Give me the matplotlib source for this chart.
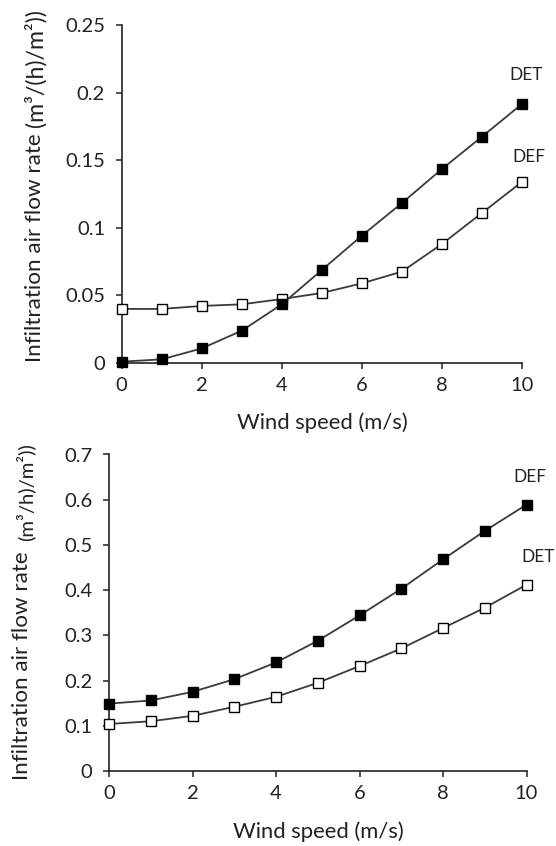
import matplotlib
matplotlib.use("Agg")
import matplotlib.pyplot as plt

plt.rcParams['font.family'] = ['Lato', 'DejaVu Sans']

wind = [0, 1, 2, 3, 4, 5, 6, 7, 8, 9, 10]

# Top panel
top_det = [0.001, 0.0027, 0.0108, 0.0239, 0.0434, 0.0688, 0.0942, 0.1183, 0.1435, 0.1674, 0.1916]
top_def = [0.040, 0.040, 0.0422, 0.0434, 0.0473, 0.0518, 0.0589, 0.0676, 0.088, 0.111, 0.134]
top_yticks = [0, 0.05, 0.1, 0.15, 0.2, 0.25]
top_yticklabels = ['0', '0.05', '0.1', '0.15', '0.2', '0.25']

# Bottom panel
bot_def = [0.149, 0.156, 0.175, 0.203, 0.240, 0.288, 0.344, 0.403, 0.468, 0.531, 0.589]
bot_det = [0.104, 0.110, 0.122, 0.142, 0.164, 0.195, 0.232, 0.271, 0.316, 0.361, 0.412]
bot_yticks = [0, 0.1, 0.2, 0.3, 0.4, 0.5, 0.6, 0.7]
bot_yticklabels = ['0', '0.1', '0.2', '0.3', '0.4', '0.5', '0.6', '0.7']

xticks = [0, 2, 4, 6, 8, 10]

W, H = 556, 846
fig = plt.figure(figsize=(W / 100, H / 100), dpi=100)
renderer = fig.canvas.get_renderer()

def px_axes(l, r, t, b):
    return [l / W, (H - b) / H, (r - l) / W, (b - t) / H]

ax1 = fig.add_axes(px_axes(121.7, 522, 25, 363))
ax2 = fig.add_axes(px_axes(109, 526.5, 454.5, 771))

TXT = '#222222'

def fit_size(s, target_px, base=10.0):
    t = fig.text(0, 0, s, fontsize=base)
    w = t.get_window_extent(renderer).width
    t.remove()
    return base * target_px / w

tick_fs = fit_size('0.25', 40)
xlab_fs = fit_size('Wind speed (m/s)', 171)
main_fs = fit_size('Infiltration air flow rate', 228)
unit_top_fs = fit_size('(m³/(h)/m²))', 118)
unit_bot_fs = fit_size('(m³/h)/m²))', 98)
ann_fs = fit_size('DET', 33)

line_kw = dict(color='#3a3a3a', lw=1.3, marker='s', ms=6.5, mec='black', mew=1.0, clip_on=False)

def style(ax):
    for s in ['top', 'right']:
        ax.spines[s].set_visible(False)
    for s in ['left', 'bottom']:
        ax.spines[s].set_linewidth(1.2)
        ax.spines[s].set_color(TXT)
    ax.set_xlim(0, 10)
    ax.set_xticks(xticks)
    ax.tick_params(axis='both', direction='out', length=4, width=1.1, labelsize=tick_fs,
                   colors=TXT)
    ax.tick_params(axis='y', pad=8)
    ax.tick_params(axis='x', pad=6)

ax1.plot(wind, top_def, mfc='white', zorder=3, **line_kw)
ax1.plot(wind, top_det, mfc='black', zorder=4, **line_kw)
style(ax1)
ax1.set_ylim(0, 0.25)
ax1.set_yticks(top_yticks)
ax1.set_yticklabels(top_yticklabels)

ax2.plot(wind, bot_det, mfc='white', zorder=3, **line_kw)
ax2.plot(wind, bot_def, mfc='black', zorder=4, **line_kw)
style(ax2)
ax2.set_ylim(0, 0.7)
ax2.set_yticks(bot_yticks)
ax2.set_yticklabels(bot_yticklabels)

def ftext(x, y, s, **kw):
    return fig.text(x / W, 1 - y / H, s, color=TXT, **kw)

# y labels
ftext(35.5, 362, 'Infiltration air flow rate', rotation=90, fontsize=main_fs, ha='center', va='bottom')
ftext(35.5, 127, '(m³/(h)/m²))', rotation=90, fontsize=unit_top_fs, ha='center', va='bottom')
ftext(22, 780, 'Infiltration air flow rate', rotation=90, fontsize=main_fs, ha='center', va='bottom')
ftext(25, 541, '(m³/h)/m²))', rotation=90, fontsize=unit_bot_fs, ha='center', va='bottom')

# x labels
ftext(322, 423, 'Wind speed (m/s)', fontsize=xlab_fs, ha='center', va='center')
ftext(318, 832, 'Wind speed (m/s)', fontsize=xlab_fs, ha='center', va='center')

# series annotations
ftext(526, 75, 'DET', fontsize=ann_fs, ha='center', va='center')
ftext(529, 157, 'DEF', fontsize=ann_fs, ha='center', va='center')
ftext(530, 477, 'DEF', fontsize=ann_fs, ha='center', va='center')
ftext(538, 557, 'DET', fontsize=ann_fs, ha='center', va='center')

fig.savefig('out.png', dpi=100)
